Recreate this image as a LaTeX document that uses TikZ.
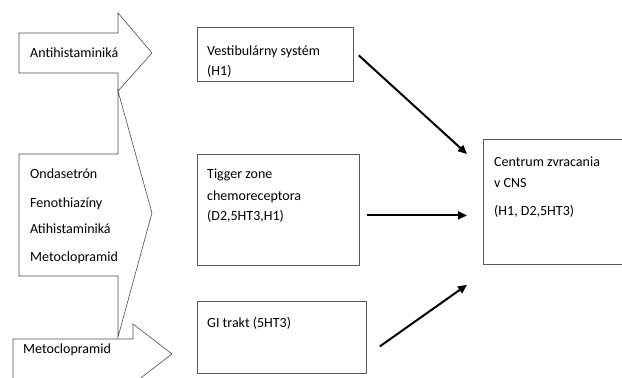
\documentclass[tikz,border=0pt]{standalone}
\usepackage{fontspec}
\setmainfont{Carlito}
\usepackage{tikz}
\usetikzlibrary{arrows.meta,calc}
\definecolor{boxgray}{HTML}{5A5A5A}

\begin{document}
\begin{tikzpicture}[x=1pt,y=-1pt,
  box/.style={draw=boxgray,line width=0.8pt,fill=white,inner sep=0pt,anchor=north west},
  blockarrow/.style={draw=black!70,line width=0.6pt,fill=white},
  lbl/.style={anchor=base west,inner sep=0pt,font=\fontsize{14}{17}\selectfont},
  conn/.style={line width=2pt,-{Triangle[length=9pt,width=8pt]}}]
  \useasboundingbox (0,0) rectangle (622,378);
  \clip (0,0) rectangle (622,378);
  % block arrows on the left
  \draw[blockarrow] (19,33) -- (118,33) -- (118,13) -- (152,53) -- (118,91) -- (118,73) -- (19,73) -- cycle;
  \draw[blockarrow] (19,154) -- (118,154) -- (118,91) -- (152,213) -- (118,337) -- (118,276) -- (19,276) -- cycle;
  \draw[blockarrow] (13,339) -- (133,339) -- (133,324) -- (172,354) -- (133,384) -- (133,392) -- (13,392) -- cycle;
  % boxes
  \node[box,minimum width=156,minimum height=54] (vest) at (197,27) {};
  \node[box,minimum width=162,minimum height=111] (tig) at (197,154) {};
  \node[box,minimum width=169,minimum height=72] (gi) at (197,301) {};
  \node[box,minimum width=160,minimum height=125] (cns) at (483,139) {};
  % texts
  \node[lbl] (anti) at (30,57) {Antihistaminiká};
  \foreach \y/\t [count=\i] in {178/Ondasetrón,207/Fenothiazíny,233/Atihistaminiká,261/Metoclopramid}
    \node[lbl] (drug\i) at (30,\y) {\t};
  \node[lbl] (meto) at (23,353) {Metoclopramid};
  \node[lbl] (vest1) at (207,55) {Vestibulárny systém};
  \node[lbl] (vest2) at (207,75) {(H1)};
  \foreach \y/\t [count=\i] in {178/Tigger zone,200/chemoreceptora,220/{(D2,5HT3,H1)}}
    \node[lbl] (tig\i) at (207,\y) {\t};
  \node[lbl] (gi1) at (207,327) {GI trakt (5HT3)};
  \foreach \y/\t [count=\i] in {166/Centrum zvracania,187/v CNS,215/{(H1, D2,5HT3)}}
    \node[lbl] (cns\i) at (494,\y) {\t};
  % connectors
  \draw[conn] ($(vest.east)+(5,1)$) -- ($(cns.north west)+(-16,15)$);
  \draw[conn] ($(tig.east)+(7,5.5)$) -- ($(cns.west)+(-16,13.5)$);
  \draw[conn] ($(gi.east)+(13,9)$) -- ($(cns.south west)+(-16,20)$);
\end{tikzpicture}
\end{document}
